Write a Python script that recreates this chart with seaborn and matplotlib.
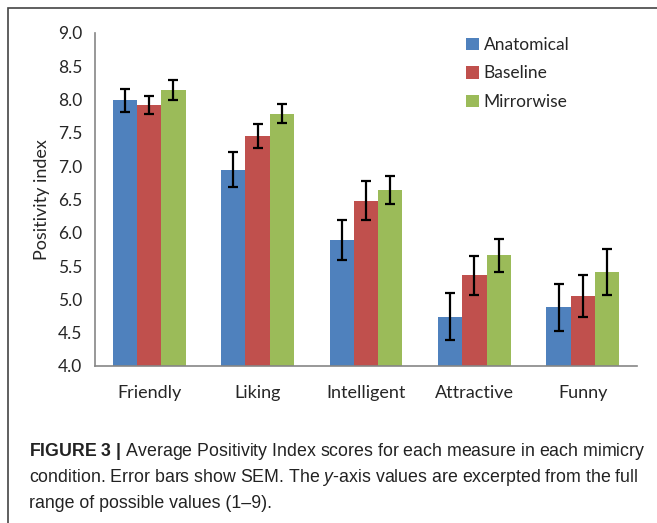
import matplotlib
matplotlib.use("Agg")
import matplotlib.pyplot as plt
from matplotlib.patches import Rectangle
import seaborn as sns
import pandas as pd

measures = ["Friendly", "Liking", "Intelligent", "Attractive", "Funny"]
conditions = ["Anatomical", "Baseline", "Mirrorwise"]
anatomical = [7.99, 6.95, 5.89, 4.74, 4.88]
baseline = [7.92, 7.45, 6.48, 5.36, 5.05]
mirrorwise = [8.15, 7.79, 6.64, 5.66, 5.41]
sem_anatomical = [0.17, 0.265, 0.295, 0.35, 0.35]
sem_baseline = [0.14, 0.18, 0.295, 0.295, 0.32]
sem_mirrorwise = [0.15, 0.14, 0.21, 0.25, 0.34]
yticks = [4.0, 4.5, 5.0, 5.5, 6.0, 6.5, 7.0, 7.5, 8.0, 8.5, 9.0]
colors = ["#4F81BD", "#C0504D", "#9BBB59"]


def makeDF() -> pd.DataFrame:
    rows = []
    for cond, vals, sems in zip(conditions,
                                [anatomical, baseline, mirrorwise],
                                [sem_anatomical, sem_baseline, sem_mirrorwise]):
        for m, v, s in zip(measures, vals, sems):
            rows.append({"Measure": m, "Condition": cond, "Score": v, "SEM": s})
    return pd.DataFrame(rows)


def main():
    sns.set_style("white")
    plt.rcParams["font.family"] = ["Lato", "DejaVu Sans"]
    plt.rcParams["mathtext.fontset"] = "custom"
    plt.rcParams["mathtext.rm"] = "Liberation Sans"
    plt.rcParams["mathtext.it"] = "Liberation Sans:italic"
    plt.rcParams["mathtext.bf"] = "Liberation Sans:bold"

    df = makeDF()
    fig = plt.figure(figsize=(6.57, 5.23), dpi=100)
    ax = fig.add_axes([95 / 657, 1 - 366 / 523, 542 / 657, 333 / 523])

    sns.barplot(data=df, x="Measure", y="Score", hue="Condition", order=measures,
                hue_order=conditions, palette=colors, width=0.67, errorbar=None,
                saturation=1, linewidth=0, ax=ax)

    # error bars on the bar centres that seaborn placed
    for cont, cond in zip(ax.containers, conditions):
        sub = df[df["Condition"] == cond].set_index("Measure").loc[measures]
        xs = [p.get_x() + p.get_width() / 2 for p in cont.patches]
        ax.errorbar(xs, sub["Score"], yerr=sub["SEM"], fmt="none", ecolor="black",
                    elinewidth=1.6, capsize=3.5, capthick=1.6)

    ax.set_ylim(4.0, 9.0)
    ax.set_xlim(-0.5, 4.5)
    ax.set_yticks(yticks)
    ax.set_yticklabels([f"{t:.1f}" for t in yticks], fontsize=12.5)
    ax.set_xticks(range(len(measures)))
    ax.set_xticklabels(measures, fontsize=13)
    ax.set_xticks([i - 0.5 for i in range(len(measures) + 1)], minor=True)
    ax.tick_params(axis="x", which="major", length=0, pad=14)
    ax.tick_params(axis="x", which="minor", length=7, width=1.2, color="#868686", direction="out")
    ax.tick_params(axis="y", length=5, width=1.2, color="#868686", direction="out", pad=4)
    ax.set_xlabel("")
    ax.set_ylabel("Positivity index", fontsize=13, labelpad=6)
    for side in ["top", "right"]:
        ax.spines[side].set_visible(False)
    for side in ["left", "bottom"]:
        ax.spines[side].set_color("#868686")
        ax.spines[side].set_linewidth(1.2)

    ax.legend(loc="upper left", bbox_to_anchor=(0.655, 1.035), frameon=False, fontsize=12.5,
              handlelength=0.75, handleheight=0.75, handletextpad=0.3, labelspacing=0.72)

    # outer frame
    fig.patches.append(Rectangle((8 / 657, -0.1), 1.2, 1.1 - 8 / 523, transform=fig.transFigure,
                                 fill=False, edgecolor="#444444", linewidth=1.2))

    cap = "#222222"
    fs = 12.8
    fig.text(29 / 657, 1 - 451 / 523,
             r"$\bf{FIGURE\ 3\ |}$ Average Positivity Index scores for each measure in each mimicry",
             fontsize=fs, family="Liberation Sans", color=cap, va="center")
    fig.text(29 / 657, 1 - 477 / 523,
             r"condition. Error bars show SEM. The $\it{y}$-axis values are excerpted from the full",
             fontsize=fs, family="Liberation Sans", color=cap, va="center")
    fig.text(29 / 657, 1 - 503 / 523, "range of possible values (1\u20139).",
             fontsize=fs, family="Liberation Sans", color=cap, va="center")

    fig.savefig("out.png", dpi=100)


if __name__ == "__main__":
    main()
